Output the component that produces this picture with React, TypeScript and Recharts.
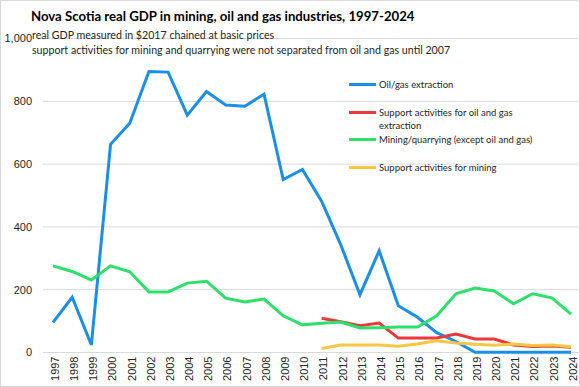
import { LineChart, Line, XAxis, YAxis, CartesianGrid } from "recharts";

const years = [
  "1997", "1998", "1999", "2000", "2001", "2002", "2003", "2004", "2005", "2006",
  "2007", "2008", "2009", "2010", "2011", "2012", "2013", "2014", "2015", "2016",
  "2017", "2018", "2019", "2020", "2021", "2022", "2023", "2024",
];

const oilGas = [
  96, 176, 24, 663, 730, 895, 893, 756, 831, 788,
  784, 823, 551, 583, 482, 343, 184, 324, 149, 112,
  63, 35, 1, 1, 1, 1, 1, 1,
];

const supportOilGas = [
  null, null, null, null, null, null, null, null, null, null,
  null, null, null, null, 109, 98, 85, 94, 46, 46,
  46, 59, 43, 43, 24, 19, 21, 17,
];

const mining = [
  276, 258, 231, 276, 257, 193, 193, 221, 227, 173,
  161, 170, 117, 88, 93, 97, 78, 79, 81, 81,
  117, 187, 205, 196, 155, 187, 174, 122,
];

const supportMining = [
  null, null, null, null, null, null, null, null, null, null,
  null, null, null, null, 13, 24, 24, 24, 20, 27,
  37, 30, 26, 23, 27, 22, 24, 18,
];

const yTicks = [0, 200, 400, 600, 800, 1000];

const series = [
  { key: "oilGas", name: ["Oil/gas extraction"], color: "#1b8ee6" },
  { key: "supportOilGas", name: ["Support activities for oil and gas", "extraction"], color: "#e8393c" },
  { key: "mining", name: ["Mining/quarrying (except oil and gas)"], color: "#2ee06b" },
  { key: "supportMining", name: ["Support activities for mining"], color: "#f6c744" },
];

const data = years.map((year, i) => ({
  year,
  oilGas: oilGas[i],
  supportOilGas: supportOilGas[i],
  mining: mining[i],
  supportMining: supportMining[i],
}));

const textFont = "Lato, 'Noto Sans', sans-serif";
const tickFont = "'Liberation Sans', Arial, sans-serif";

function LegendBox() {
  return (
    <div
      style={{
        position: "absolute",
        left: 348,
        top: 77,
        fontFamily: textFont,
        fontSize: 9.5,
        color: "#262626",
      }}
    >
      {series.map((s) => (
        <div
          key={s.key}
          style={{ display: "flex", alignItems: "flex-start", height: 27.7 }}
        >
          <div
            style={{
              width: 27,
              height: 3,
              background: s.color,
              marginTop: 5,
              marginRight: 3,
              flex: "none",
            }}
          />
          <div style={{ lineHeight: "13px", whiteSpace: "nowrap" }}>
            {s.name.map((line, j) => (
              <div key={j}>{line}</div>
            ))}
          </div>
        </div>
      ))}
    </div>
  );
}

export default function App() {
  return (
    <div
      style={{
        position: "absolute",
        left: 0,
        top: 0,
        width: 580,
        height: 387,
        background: "#fff",
        boxSizing: "border-box",
        border: "1px solid #d9d9d9",
        overflow: "hidden",
      }}
    >
      <LineChart
        width={580}
        height={387}
        data={data}
        margin={{ top: 38.5, right: 0, bottom: 0, left: 0 }}
        style={{ position: "absolute", left: -1, top: -1 }}
      >
        <CartesianGrid vertical={false} stroke="#d9d9d9" />
        <XAxis
          dataKey="year"
          interval={0}
          axisLine={false}
          tickLine={false}
          height={34.5}
          padding={{ left: 10, right: 9 }}
          angle={-90}
          textAnchor="end"
          dy={-4}
          dx={-2}
          tick={{ fontSize: 11, fill: "#262626", fontFamily: tickFont }}
        />
        <YAxis
          domain={[0, 1000]}
          ticks={yTicks}
          width={43}
          axisLine={false}
          tickLine={false}
          dx={-3}
          tickFormatter={(v: number) => v.toLocaleString("en-US")}
          tick={{ fontSize: 11, fill: "#262626", fontFamily: tickFont }}
        />
        {series.map((s) => (
          <Line
            key={s.key}
            dataKey={s.key}
            name={s.name.join(" ")}
            stroke={s.color}
            strokeWidth={3}
            dot={false}
            isAnimationActive={false}
          />
        ))}
      </LineChart>
      <div
        style={{
          position: "absolute",
          left: 30,
          top: 7,
          fontFamily: textFont,
          fontWeight: 700,
          fontSize: 13.2,
          color: "#000",
          whiteSpace: "nowrap",
        }}
      >
        Nova Scotia real GDP in mining, oil and gas industries, 1997-2024
      </div>
      <div
        style={{
          position: "absolute",
          left: 31,
          top: 26,
          fontFamily: textFont,
          fontSize: 10.65,
          lineHeight: "15px",
          color: "#262626",
          whiteSpace: "nowrap",
        }}
      >
        real GDP measured in $2017 chained at basic prices
        <br />
        support activities for mining and quarrying were not separated from oil and gas until 2007
      </div>
      <LegendBox />
    </div>
  );
}
